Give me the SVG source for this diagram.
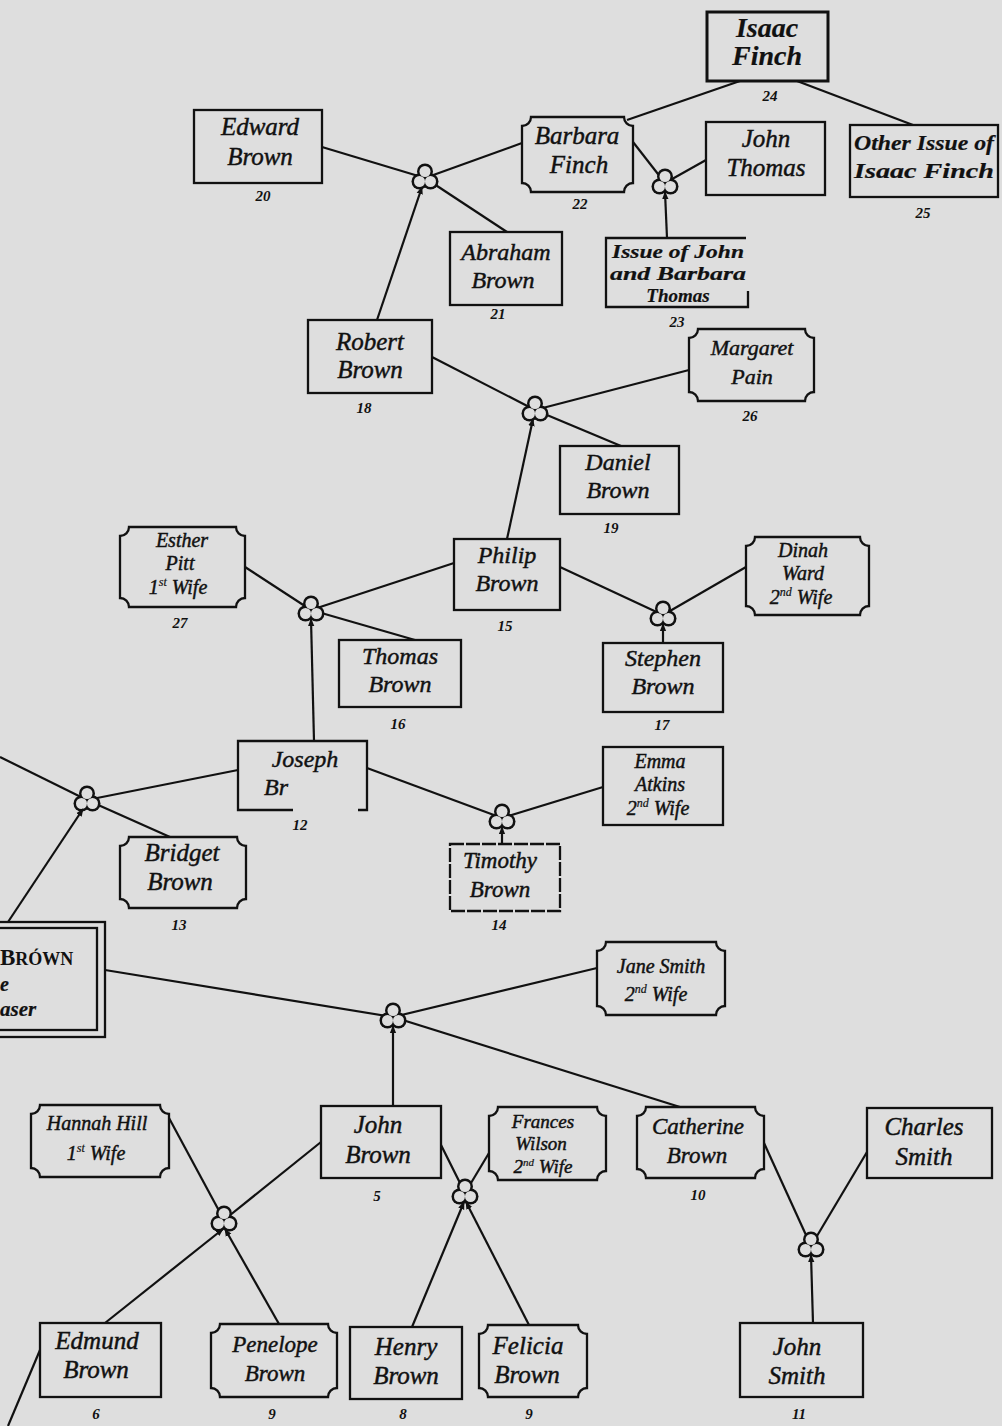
<svg xmlns="http://www.w3.org/2000/svg" width="1002" height="1426" viewBox="0 0 1002 1426">
<style>
.bg{fill:#dedede}
.box{fill:none;stroke:#111;stroke-width:2.3}
.nm{font-family:"Liberation Serif",serif;font-style:italic;font-size:25px;fill:#111;stroke:#111;stroke-width:0.45;text-anchor:middle}
.md{font-size:24px}
.sm{font-size:20px}
.bd{font-weight:bold;stroke-width:0.2}
.sup{font-size:12px;stroke-width:0.2}
.num{font-family:"Liberation Serif",serif;font-style:italic;font-weight:bold;font-size:15px;fill:#111;text-anchor:middle}
.ln{stroke:#111;stroke-width:2.2;fill:none}
.ar{marker-end:url(#ar)}
.cb{fill:#111}
.ci{fill:#dedede}
</style>
<defs>
<marker id="ar" viewBox="0 0 10 10" refX="9" refY="5" markerWidth="8" markerHeight="8" markerUnits="userSpaceOnUse" orient="auto">
<path d="M0,1 L10,5 L0,9 Z" fill="#111"/>
</marker>
<g id="club">
<circle class="cb" cx="0" cy="-6.5" r="8"/>
<circle class="cb" cx="-5.5" cy="3.5" r="8"/>
<circle class="cb" cx="5.5" cy="3.5" r="8"/>
<circle class="ci" cx="0" cy="-6.5" r="5.5"/>
<circle class="ci" cx="-5.5" cy="3.5" r="5.5"/>
<circle class="ci" cx="5.5" cy="3.5" r="5.5"/>
</g>
</defs>
<rect class="bg" x="0" y="0" width="1002" height="1426"/>

<g id="connectors">
<line class="ln" x1="740" y1="81" x2="627" y2="120"/>
<line class="ln" x1="797" y1="81" x2="913" y2="125"/>
<line class="ln" x1="322" y1="147" x2="425" y2="178"/>
<line class="ln" x1="522" y1="143" x2="425" y2="178"/>
<line class="ln" x1="425" y1="178" x2="507" y2="232"/>
<line class="ln" x1="633" y1="142" x2="665" y2="183"/>
<line class="ln" x1="706" y1="160" x2="665" y2="183"/>
<line class="ln" x1="432" y1="357" x2="535" y2="410"/>
<line class="ln" x1="689" y1="370" x2="535" y2="410"/>
<line class="ln" x1="535" y1="410" x2="621" y2="446"/>
<line class="ln" x1="245" y1="567" x2="311" y2="610"/>
<line class="ln" x1="454" y1="563" x2="311" y2="610"/>
<line class="ln" x1="311" y1="610" x2="415" y2="640"/>
<line class="ln" x1="560" y1="567" x2="663" y2="615"/>
<line class="ln" x1="746" y1="567" x2="663" y2="615"/>
<line class="ln" x1="0" y1="757" x2="87" y2="800"/>
<line class="ln" x1="238" y1="770" x2="87" y2="800"/>
<line class="ln" x1="87" y1="800" x2="170" y2="837"/>
<line class="ln" x1="367" y1="768" x2="502" y2="818"/>
<line class="ln" x1="603" y1="787" x2="502" y2="818"/>
<line class="ln" x1="105" y1="970" x2="393" y2="1017"/>
<line class="ln" x1="597" y1="968" x2="393" y2="1017"/>
<line class="ln" x1="393" y1="1017" x2="680" y2="1107"/>
<line class="ln" x1="169" y1="1118" x2="224" y2="1220"/>
<line class="ln" x1="321" y1="1142" x2="224" y2="1220"/>
<line class="ln" x1="441" y1="1145" x2="465" y2="1193"/>
<line class="ln" x1="489" y1="1153" x2="465" y2="1193"/>
<line class="ln" x1="764" y1="1143" x2="811" y2="1246"/>
<line class="ln" x1="867" y1="1152" x2="811" y2="1246"/>
<line class="ln" x1="40" y1="1350" x2="8" y2="1426"/>
<use href="#club" x="425" y="178"/>
<use href="#club" x="665" y="183"/>
<use href="#club" x="535" y="410"/>
<use href="#club" x="311" y="610"/>
<use href="#club" x="663" y="615"/>
<use href="#club" x="87" y="800"/>
<use href="#club" x="502" y="818"/>
<use href="#club" x="393" y="1017"/>
<use href="#club" x="224" y="1220"/>
<use href="#club" x="465" y="1193"/>
<use href="#club" x="811" y="1246"/>
<line class="ln ar" x1="377" y1="320" x2="422" y2="187"/>
<line class="ln ar" x1="667" y1="238" x2="665" y2="192"/>
<line class="ln ar" x1="507" y1="539" x2="533" y2="419"/>
<line class="ln ar" x1="314" y1="741" x2="311" y2="619"/>
<line class="ln ar" x1="663" y1="643" x2="663" y2="624"/>
<line class="ln ar" x1="8" y1="922" x2="83" y2="809"/>
<line class="ln ar" x1="502" y1="844" x2="502" y2="827"/>
<line class="ln ar" x1="393" y1="1106" x2="393" y2="1026"/>
<line class="ln ar" x1="105" y1="1323" x2="223" y2="1229"/>
<line class="ln ar" x1="279" y1="1324" x2="225" y2="1229"/>
<line class="ln ar" x1="412" y1="1327" x2="464" y2="1202"/>
<line class="ln ar" x1="529" y1="1325" x2="466" y2="1202"/>
<line class="ln ar" x1="813" y1="1323" x2="811" y2="1255"/>
</g>

<g id="n24-isaac-finch">
<rect class="box" x="707" y="12" width="121" height="69" style="stroke-width:3"/>
<text class="nm bd" style="font-size:28px"><tspan x="767" y="37">Isaac</tspan><tspan x="767" y="65">Finch</tspan></text>
<text class="num" x="770" y="101">24</text>
</g>

<g id="n20-edward-brown">
<rect class="box" x="194" y="110" width="128" height="73"/>
<text class="nm"><tspan x="260" y="135">Edward</tspan><tspan x="260" y="165">Brown</tspan></text>
<text class="num" x="263" y="201">20</text>
</g>

<g id="n22-barbara-finch">
<path class="box" d="M531,117 H624 A9,9 0 0 0 633,126 V183 A9,9 0 0 0 624,192 H531 A9,9 0 0 0 522,183 V126 A9,9 0 0 0 531,117 Z"/>
<text class="nm"><tspan x="577" y="144">Barbara</tspan><tspan x="579" y="173">Finch</tspan></text>
<text class="num" x="580" y="209">22</text>
</g>

<g id="n-john-thomas">
<rect class="box" x="706" y="122" width="119" height="73"/>
<text class="nm"><tspan x="766" y="147">John</tspan><tspan x="766" y="176">Thomas</tspan></text>
</g>

<g id="n25-other-issue">
<rect class="box" x="850" y="125" width="148" height="72"/>
<text class="nm bd" style="font-size:21px"><tspan x="924" y="150" textLength="140" lengthAdjust="spacingAndGlyphs">Other Issue of</tspan><tspan x="924" y="178" textLength="140" lengthAdjust="spacingAndGlyphs">Isaac Finch</tspan></text>
<text class="num" x="923" y="218">25</text>
</g>

<g id="n21-abraham-brown">
<rect class="box" x="450" y="232" width="112" height="73"/>
<text class="nm md"><tspan x="506" y="260">Abraham</tspan><tspan x="503" y="288">Brown</tspan></text>
<text class="num" x="498" y="319">21</text>
</g>

<g id="n23-issue-john-barbara">
<path class="box" d="M748,291 V307 H606 V238 H746"/>
<text class="nm bd" style="font-size:19px"><tspan x="678" y="258" textLength="132" lengthAdjust="spacingAndGlyphs">Issue of John</tspan><tspan x="678" y="280" textLength="136" lengthAdjust="spacingAndGlyphs">and Barbara</tspan><tspan x="678" y="302">Thomas</tspan></text>
<text class="num" x="677" y="327">23</text>
</g>

<g id="n18-robert-brown">
<rect class="box" x="308" y="320" width="124" height="73"/>
<text class="nm"><tspan x="370" y="350">Robert</tspan><tspan x="370" y="378">Brown</tspan></text>
<text class="num" x="364" y="413">18</text>
</g>

<g id="n26-margaret-pain">
<path class="box" d="M698,329 H805 A9,9 0 0 0 814,338 V392 A9,9 0 0 0 805,401 H698 A9,9 0 0 0 689,392 V338 A9,9 0 0 0 698,329 Z"/>
<text class="nm" style="font-size:22px"><tspan x="752" y="355">Margaret</tspan><tspan x="752" y="384">Pain</tspan></text>
<text class="num" x="750" y="421">26</text>
</g>

<g id="n19-daniel-brown">
<rect class="box" x="560" y="446" width="119" height="68"/>
<text class="nm md"><tspan x="618" y="470">Daniel</tspan><tspan x="618" y="498">Brown</tspan></text>
<text class="num" x="611" y="533">19</text>
</g>

<g id="n15-philip-brown">
<rect class="box" x="454" y="539" width="106" height="71"/>
<text class="nm md"><tspan x="507" y="563">Philip</tspan><tspan x="507" y="591">Brown</tspan></text>
<text class="num" x="505" y="631">15</text>
</g>

<g id="n27-esther-pitt">
<path class="box" d="M129,527 H236 A9,9 0 0 0 245,536 V598 A9,9 0 0 0 236,607 H129 A9,9 0 0 0 120,598 V536 A9,9 0 0 0 129,527 Z"/>
<text class="nm sm"><tspan x="182" y="547">Esther</tspan><tspan x="180" y="570">Pitt</tspan></text>
<text class="nm sm" x="178" y="594">1<tspan class="sup" dy="-8">st</tspan><tspan dy="8"> Wife</tspan></text>
<text class="num" x="180" y="628">27</text>
</g>

<g id="n-dinah-ward">
<path class="box" d="M755,537 H860 A9,9 0 0 0 869,546 V606 A9,9 0 0 0 860,615 H755 A9,9 0 0 0 746,606 V546 A9,9 0 0 0 755,537 Z"/>
<text class="nm sm"><tspan x="803" y="557">Dinah</tspan><tspan x="803" y="580">Ward</tspan></text>
<text class="nm sm" x="801" y="604">2<tspan class="sup" dy="-8">nd</tspan><tspan dy="8"> Wife</tspan></text>
</g>

<g id="n16-thomas-brown">
<rect class="box" x="339" y="640" width="122" height="67"/>
<text class="nm md"><tspan x="400" y="664">Thomas</tspan><tspan x="400" y="692">Brown</tspan></text>
<text class="num" x="398" y="729">16</text>
</g>

<g id="n17-stephen-brown">
<rect class="box" x="603" y="643" width="120" height="69"/>
<text class="nm md"><tspan x="663" y="666">Stephen</tspan><tspan x="663" y="694">Brown</tspan></text>
<text class="num" x="662" y="730">17</text>
</g>

<g id="n12-joseph-brown">
<path class="box" d="M293,810 H238 V741 H367 V810 H358"/>
<text class="nm md" x="305" y="767">Joseph</text>
<text class="nm md" x="264" y="795" style="text-anchor:start">Br</text>
<text class="num" x="300" y="830">12</text>
</g>

<g id="n-emma-atkins">
<rect class="box" x="603" y="747" width="120" height="78"/>
<text class="nm sm"><tspan x="660" y="768">Emma</tspan><tspan x="660" y="791">Atkins</tspan></text>
<text class="nm sm" x="658" y="815">2<tspan class="sup" dy="-8">nd</tspan><tspan dy="8"> Wife</tspan></text>
</g>

<g id="n13-bridget-brown">
<path class="box" d="M129,837 H237 A9,9 0 0 0 246,846 V899 A9,9 0 0 0 237,908 H129 A9,9 0 0 0 120,899 V846 A9,9 0 0 0 129,837 Z"/>
<text class="nm"><tspan x="182" y="861">Bridget</tspan><tspan x="180" y="890">Brown</tspan></text>
<text class="num" x="179" y="930">13</text>
</g>

<g id="n14-timothy-brown">
<rect class="box" x="450" y="844" width="110" height="67" style="stroke-dasharray:14 2"/>
<text class="nm" style="font-size:23px"><tspan x="500" y="868">Timothy</tspan><tspan x="500" y="897">Brown</tspan></text>
<text class="num" x="499" y="930">14</text>
</g>

<g id="n-brown-purchaser">
<rect class="box" x="-10" y="922" width="115" height="115"/>
<rect class="box" x="-10" y="928" width="107" height="102"/>
<text x="0" y="965" style="font-family:'Liberation Serif',serif;font-weight:bold;font-size:23px;fill:#111">B<tspan style="font-size:18px">RÓWN</tspan></text>
<text class="nm bd" x="0" y="991" style="text-anchor:start;font-size:20px">e</text>
<text class="nm bd" x="0" y="1016" style="text-anchor:start;font-size:21px">aser</text>
</g>

<g id="n-jane-smith">
<path class="box" d="M606,942 H716 A9,9 0 0 0 725,951 V1006 A9,9 0 0 0 716,1015 H606 A9,9 0 0 0 597,1006 V951 A9,9 0 0 0 606,942 Z"/>
<text class="nm sm" x="661" y="973">Jane Smith</text>
<text class="nm sm" x="656" y="1001">2<tspan class="sup" dy="-8">nd</tspan><tspan dy="8"> Wife</tspan></text>
</g>

<g id="n-hannah-hill">
<path class="box" d="M40,1105 H160 A9,9 0 0 0 169,1114 V1168 A9,9 0 0 0 160,1177 H40 A9,9 0 0 0 31,1168 V1114 A9,9 0 0 0 40,1105 Z"/>
<text class="nm sm" x="97" y="1130">Hannah Hill</text>
<text class="nm sm" x="96" y="1160">1<tspan class="sup" dy="-8">st</tspan><tspan dy="8"> Wife</tspan></text>
</g>

<g id="n5-john-brown">
<rect class="box" x="321" y="1106" width="120" height="72"/>
<text class="nm"><tspan x="378" y="1133">John</tspan><tspan x="378" y="1163">Brown</tspan></text>
<text class="num" x="377" y="1201">5</text>
</g>

<g id="n-frances-wilson">
<path class="box" d="M498,1107 H597 A9,9 0 0 0 606,1116 V1171 A9,9 0 0 0 597,1180 H498 A9,9 0 0 0 489,1171 V1116 A9,9 0 0 0 498,1107 Z"/>
<text class="nm" style="font-size:19px"><tspan x="543" y="1128">Frances</tspan><tspan x="541" y="1150">Wilson</tspan></text>
<text class="nm" style="font-size:19px" x="543" y="1173">2<tspan class="sup" style="font-size:11px" dy="-7">nd</tspan><tspan dy="7"> Wife</tspan></text>
</g>

<g id="n10-catherine-brown">
<path class="box" d="M646,1107 H755 A9,9 0 0 0 764,1116 V1169 A9,9 0 0 0 755,1178 H646 A9,9 0 0 0 637,1169 V1116 A9,9 0 0 0 646,1107 Z"/>
<text class="nm" style="font-size:23px"><tspan x="698" y="1134">Catherine</tspan><tspan x="697" y="1163">Brown</tspan></text>
<text class="num" x="698" y="1200">10</text>
</g>

<g id="n-charles-smith">
<rect class="box" x="867" y="1108" width="125" height="70"/>
<text class="nm"><tspan x="924" y="1135">Charles</tspan><tspan x="924" y="1165">Smith</tspan></text>
</g>

<g id="n6-edmund-brown">
<rect class="box" x="40" y="1323" width="121" height="74"/>
<text class="nm"><tspan x="97" y="1349">Edmund</tspan><tspan x="96" y="1378">Brown</tspan></text>
<text class="num" x="96" y="1419">6</text>
</g>

<g id="n9-penelope-brown">
<path class="box" d="M220,1324 H328 A9,9 0 0 0 337,1333 V1388 A9,9 0 0 0 328,1397 H220 A9,9 0 0 0 211,1388 V1333 A9,9 0 0 0 220,1324 Z"/>
<text class="nm" style="font-size:23px"><tspan x="275" y="1352">Penelope</tspan><tspan x="275" y="1381">Brown</tspan></text>
<text class="num" x="272" y="1419">9</text>
</g>

<g id="n8-henry-brown">
<rect class="box" x="350" y="1327" width="112" height="72"/>
<text class="nm"><tspan x="406" y="1355">Henry</tspan><tspan x="406" y="1384">Brown</tspan></text>
<text class="num" x="403" y="1419">8</text>
</g>

<g id="n9-felicia-brown">
<path class="box" d="M488,1325 H578 A9,9 0 0 0 587,1334 V1388 A9,9 0 0 0 578,1397 H488 A9,9 0 0 0 479,1388 V1334 A9,9 0 0 0 488,1325 Z"/>
<text class="nm"><tspan x="528" y="1354">Felicia</tspan><tspan x="527" y="1383">Brown</tspan></text>
<text class="num" x="529" y="1419">9</text>
</g>

<g id="n11-john-smith">
<rect class="box" x="740" y="1323" width="123" height="74"/>
<text class="nm"><tspan x="797" y="1355">John</tspan><tspan x="797" y="1384">Smith</tspan></text>
<text class="num" x="799" y="1419">11</text>
</g>
</svg>
